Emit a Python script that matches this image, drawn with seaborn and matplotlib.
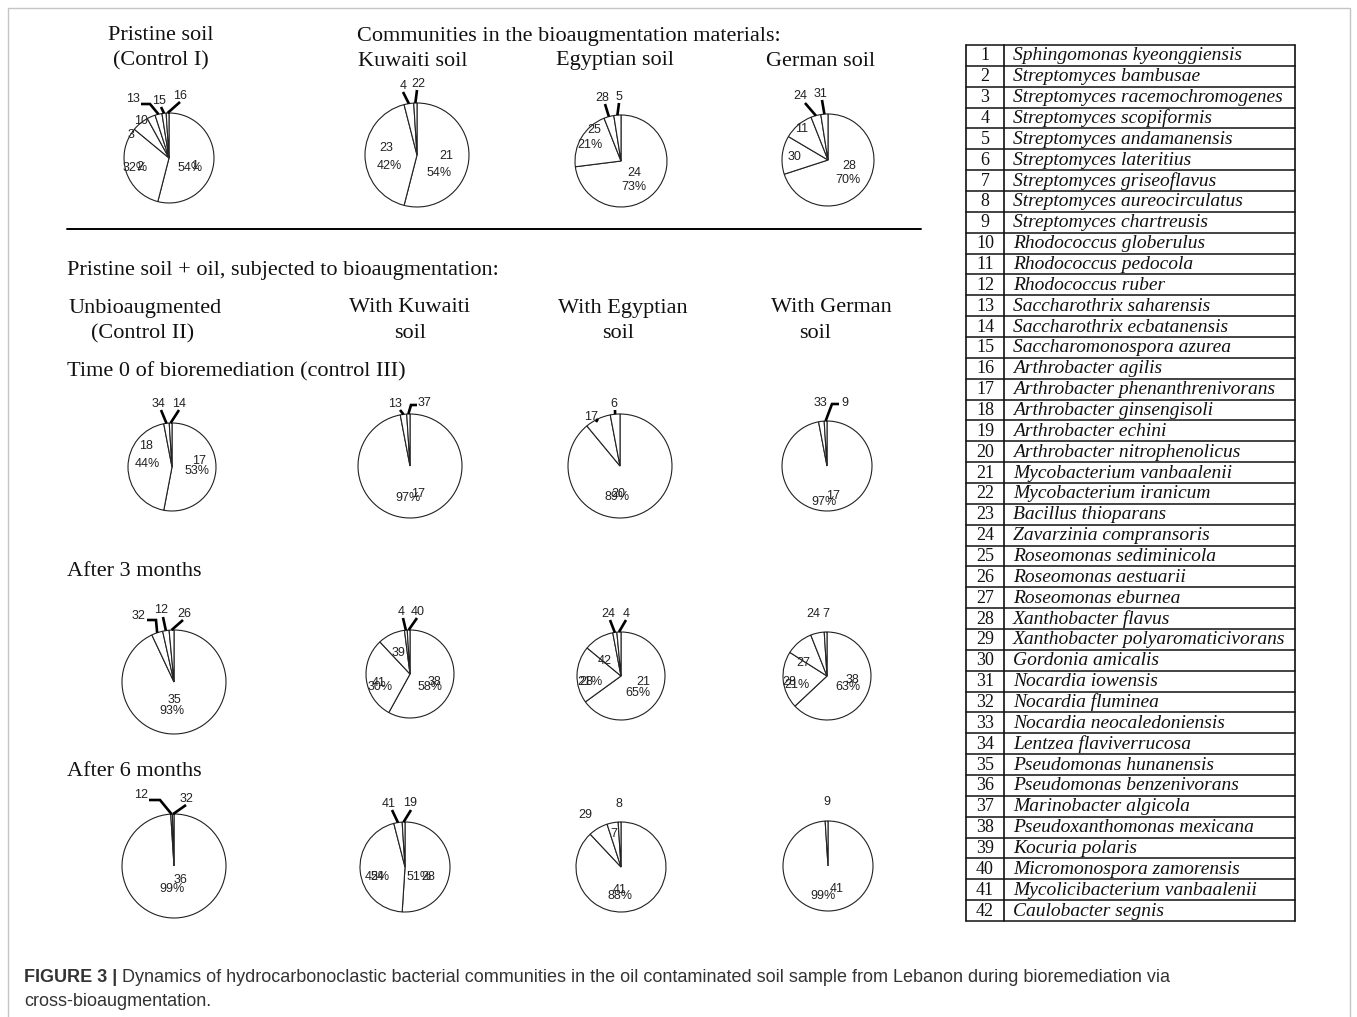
import math
import matplotlib
matplotlib.use("Agg")
import matplotlib.pyplot as plt
import seaborn as sns
from matplotlib.patches import Rectangle

sns.set_theme(style="white")
plt.rcParams['font.family'] = ['Liberation Sans', 'DejaVu Sans']

W, H = 1357, 1017

# ---------------- data ----------------
pristine_species = [1, 2, 3, 10, 13, 15, 16]
pristine_pct = [54, 32, 6, 3, 2.5, 1.5, 1]
kuwaiti_species = [21, 23, 4, 22]
kuwaiti_pct = [54, 42, 3, 1]
egyptian_species = [24, 25, 28, 5]
egyptian_pct = [73, 21, 3.5, 2.5]
german_species = [28, 30, 11, 24, 31]
german_pct = [70, 13.5, 10.5, 3.5, 2.5]

t0_control_species = [17, 18, 34, 14]
t0_control_pct = [53, 44, 2, 1]
t0_kuwaiti_species = [17, 13, 37]
t0_kuwaiti_pct = [97, 2, 1]
t0_egyptian_species = [20, 17, 6]
t0_egyptian_pct = [89, 8, 3]
t0_german_species = [17, 33, 9]
t0_german_pct = [97, 2, 1]

m3_control_species = [35, 32, 12, 26]
m3_control_pct = [93, 3.5, 2, 1.5]
m3_kuwaiti_species = [38, 41, 39, 4, 40]
m3_kuwaiti_pct = [58, 30, 10, 1, 1]
m3_egyptian_species = [21, 28, 42, 24, 4]
m3_egyptian_pct = [65, 21, 11, 1.5, 1.5]
m3_german_species = [38, 28, 27, 24, 7]
m3_german_pct = [63, 21, 10, 5, 1]

m6_control_species = [36, 12, 32]
m6_control_pct = [99, 0.5, 0.5]
m6_kuwaiti_species = [28, 24, 41, 19]
m6_kuwaiti_pct = [51, 45, 3, 1]
m6_egyptian_species = [41, 29, 7, 8]
m6_egyptian_pct = [88, 7, 4, 1]
m6_german_species = [41, 9]
m6_german_pct = [99, 1]

species_names = [
    "Sphingomonas kyeonggiensis", "Streptomyces bambusae", "Streptomyces racemochromogenes",
    "Streptomyces scopiformis", "Streptomyces andamanensis", "Streptomyces lateritius",
    "Streptomyces griseoflavus", "Streptomyces aureocirculatus", "Streptomyces chartreusis",
    "Rhodococcus globerulus", "Rhodococcus pedocola", "Rhodococcus ruber",
    "Saccharothrix saharensis", "Saccharothrix ecbatanensis", "Saccharomonospora azurea",
    "Arthrobacter agilis", "Arthrobacter phenanthrenivorans", "Arthrobacter ginsengisoli",
    "Arthrobacter echini", "Arthrobacter nitrophenolicus", "Mycobacterium vanbaalenii",
    "Mycobacterium iranicum", "Bacillus thioparans", "Zavarzinia compransoris",
    "Roseomonas sediminicola", "Roseomonas aestuarii", "Roseomonas eburnea",
    "Xanthobacter flavus", "Xanthobacter polyaromaticivorans", "Gordonia amicalis",
    "Nocardia iowensis", "Nocardia fluminea", "Nocardia neocaledoniensis",
    "Lentzea flaviverrucosa", "Pseudomonas hunanensis", "Pseudomonas benzenivorans",
    "Marinobacter algicola", "Pseudoxanthomonas mexicana", "Kocuria polaris",
    "Micromonospora zamorensis", "Mycolicibacterium vanbaalenii", "Caulobacter segnis",
]

# ---------------- layout (pixel positions, y from top) ----------------
layouts = [
    dict(sp=pristine_species, v=pristine_pct, c=(169, 158), r=45,
         num={1: (195, 166), 2: (140, 167), 3: (131, 135), 10: (141, 121), 13: (133, 99), 15: (159, 101), 16: (180, 96)},
         per={1: (190, 168), 2: (135, 168)},
         lead={13: [(141, 104), (150, 104)], 15: [(161, 107)], 16: [(180, 102)]}),
    dict(sp=kuwaiti_species, v=kuwaiti_pct, c=(417, 155), r=52,
         num={21: (446, 156), 23: (386, 148), 4: (403, 86), 22: (418, 84)},
         per={21: (439, 173), 23: (389, 166)},
         lead={4: [(403, 92)], 22: [(417, 90)]}),
    dict(sp=egyptian_species, v=egyptian_pct, c=(621, 161), r=46,
         num={24: (634, 173), 25: (594, 130), 28: (602, 98), 5: (619, 97)},
         per={24: (634, 187), 25: (590, 145)},
         lead={28: [(605, 104)], 5: [(619, 103)]}),
    dict(sp=german_species, v=german_pct, c=(828, 160), r=46,
         num={28: (849, 166), 30: (794, 157), 11: (802, 129), 24: (800, 96), 31: (821, 94)},
         per={28: (848, 180)},
         lead={24: [(805, 103)], 31: [(822, 100)]}),
    dict(sp=t0_control_species, v=t0_control_pct, c=(172, 467), r=44,
         num={17: (199, 461), 18: (146, 446), 34: (158, 404), 14: (179, 404)},
         per={17: (197, 471), 18: (147, 464)},
         lead={34: [(161, 410)], 14: [(179, 410)]}),
    dict(sp=t0_kuwaiti_species, v=t0_kuwaiti_pct, c=(410, 466), r=52,
         num={17: (418, 494), 13: (395, 404), 37: (425, 403)},
         per={17: (408, 498)},
         lead={13: [(400, 410)], 37: [(417, 405), (411, 405)]}),
    dict(sp=t0_egyptian_species, v=t0_egyptian_pct, c=(620, 466), r=52,
         num={20: (618, 494), 17: (591, 417), 6: (614, 404)},
         per={20: (617, 497)},
         lead={17: [(596, 422)], 6: [(615, 410)]}),
    dict(sp=t0_german_species, v=t0_german_pct, c=(827, 466), r=45,
         num={17: (833, 496), 33: (820, 403), 9: (845, 403)},
         per={17: (824, 502)},
         lead={9: [(839, 404), (832, 404)]}),
    dict(sp=m3_control_species, v=m3_control_pct, c=(174, 682), r=52,
         num={35: (174, 700), 32: (139, 616), 12: (161, 610), 26: (184, 614)},
         per={35: (172, 711)},
         lead={32: [(147, 620), (156, 620)], 12: [(163, 617)], 26: [(183, 620)]}),
    dict(sp=m3_kuwaiti_species, v=m3_kuwaiti_pct, c=(410, 674), r=44,
         num={38: (434, 682), 41: (379, 683), 39: (398, 653), 4: (401, 612), 40: (418, 612)},
         per={38: (430, 687), 41: (380, 687)},
         lead={4: [(403, 618)], 40: [(417, 618)]}),
    dict(sp=m3_egyptian_species, v=m3_egyptian_pct, c=(621, 676), r=44,
         num={21: (643, 682), 28: (586, 682), 42: (605, 661), 24: (608, 614), 4: (626, 614)},
         per={21: (638, 693), 28: (590, 682)},
         lead={24: [(610, 620)], 4: [(626, 620)]}),
    dict(sp=m3_german_species, v=m3_german_pct, c=(827, 676), r=44,
         num={38: (852, 680), 28: (789, 682), 27: (803, 663), 24: (813, 614), 7: (826, 614)},
         per={38: (848, 687), 28: (797, 685)},
         lead={}),
    dict(sp=m6_control_species, v=m6_control_pct, c=(174, 866), r=52,
         num={36: (181, 880), 12: (141, 795), 32: (186, 799)},
         per={36: (172, 889)},
         lead={12: [(149, 800), (160, 800)], 32: [(186, 805)]}),
    dict(sp=m6_kuwaiti_species, v=m6_kuwaiti_pct, c=(405, 867), r=45,
         num={24: (377, 877), 28: (428, 877), 41: (389, 804), 19: (410, 803)},
         per={24: (377, 877), 28: (419, 877)},
         lead={41: [(392, 810)], 19: [(411, 810)]}),
    dict(sp=m6_egyptian_species, v=m6_egyptian_pct, c=(621, 867), r=45,
         num={41: (620, 890), 29: (585, 815), 7: (614, 834), 8: (619, 804)},
         per={41: (620, 896)},
         lead={}),
    dict(sp=m6_german_species, v=m6_german_pct, c=(828, 866), r=45,
         num={41: (837, 889), 9: (827, 802)},
         per={41: (823, 896)},
         lead={}),
]


def P(x, y):
    return x, H - y


fig = plt.figure(figsize=(W / 100, H / 100), dpi=100)
ax = fig.add_axes([0, 0, 1, 1])

LBL = dict(fontsize=9, family=['Liberation Sans', 'DejaVu Sans'], color='#222222',
           ha='center', va='center', zorder=5)

for L in layouts:
    cx, cy = P(*L['c'])
    r = L['r']
    ax.pie(L['v'], center=(cx, cy), radius=r, startangle=90, counterclock=False,
           wedgeprops=dict(facecolor='white', edgecolor='#222222', linewidth=0.8),
           frame=True)
    total = float(sum(L['v']))
    cum = 0.0
    for sp, val in zip(L['sp'], L['v']):
        mid = math.radians(90 - 360 * (cum + val / 2) / total)
        cum += val
        ex, ey = cx + r * math.cos(mid), cy + r * math.sin(mid)
        if sp in L['num']:
            ax.text(*P(*L['num'][sp]), str(sp), **LBL)
        if sp in L['per']:
            ax.text(*P(*L['per'][sp]), f"{round(val)}%", **LBL)
        if sp in L['lead']:
            pts = [P(*p) for p in L['lead'][sp]] + [(ex, ey)]
            ax.plot([p[0] for p in pts], [p[1] for p in pts], color='black',
                    lw=1.9, solid_capstyle='butt', solid_joinstyle='miter', zorder=6)

ax.set_xlim(0, W)
ax.set_ylim(0, H)
ax.set_aspect('auto')
ax.axis('off')

# ---------------- headings ----------------
HD = dict(fontsize=16, family=['Liberation Serif', 'DejaVu Serif'], color='#111111', va='center')
ax.text(*P(161, 36), "Pristine soil", ha='center', **HD)
ax.text(*P(161, 61), "(Control I)", ha='center', **HD)
ax.text(*P(357, 36), "Communities in the bioaugmentation materials:", ha='left', **HD)
ax.text(*P(413, 61), "Kuwaiti soil", ha='center', **HD)
ax.text(*P(615, 61), "Egyptian soil", ha='center', **HD)
ax.text(*P(821, 61), "German soil", ha='center', **HD)
ax.plot([67, 921], [H - 229, H - 229], color='black', lw=1.4)
ax.text(*P(67, 270), "Pristine soil + oil, subjected to bioaugmentation:", ha='left', **HD)
ax.text(*P(145, 308), "Unbioaugmented", ha='center', **HD)
ax.text(*P(143, 334), "(Control II)", ha='center', **HD)
ax.text(*P(410, 308), "With Kuwaiti", ha='center', **HD)
ax.text(*P(410, 334), "soil", ha='center', **HD)
ax.text(*P(623, 308), "With Egyptian", ha='center', **HD)
ax.text(*P(618, 334), "soil", ha='center', **HD)
ax.text(*P(831, 308), "With German", ha='center', **HD)
ax.text(*P(815, 334), "soil", ha='center', **HD)
ax.text(*P(67, 372), "Time 0 of bioremediation (control III)", ha='left', **HD)
ax.text(*P(67, 572), "After 3 months", ha='left', **HD)
ax.text(*P(67, 772), "After 6 months", ha='left', **HD)

# ---------------- species table ----------------
tx0, tx1, tx2 = 966, 1004, 1295
ty0, ty1 = 45, 921
n = len(species_names)
rh = (ty1 - ty0) / n
for i in range(n + 1):
    y = ty0 + i * rh
    ax.plot([tx0, tx2], [H - y, H - y], color='#111111', lw=1.1)
for x in (tx0, tx1, tx2):
    ax.plot([x, x], [H - ty0, H - ty1], color='#111111', lw=1.2)
for i, name in enumerate(species_names):
    yb = ty0 + i * rh + 15.5
    ax.text(*P(985, yb), str(i + 1), ha='center', va='baseline', fontsize=13,
            family=['Liberation Serif', 'DejaVu Serif'], color='#111111')
    ax.text(*P(1013, yb), name, ha='left', va='baseline', fontsize=14, style='italic',
            family=['Liberation Serif', 'DejaVu Serif'], color='#111111')

# ---------------- frame and caption ----------------
ax.add_patch(Rectangle((8, H - 1040), 1342, 1032, fill=False, edgecolor='#c4c4c4', lw=1.0))

CAP = dict(fontsize=13, family=['Liberation Sans', 'DejaVu Sans'], color='#333333', va='center')
t1 = ax.text(*P(24, 977), "FIGURE 3 |", ha='left', fontweight='bold', **CAP)
fig.canvas.draw()
bb = t1.get_window_extent(renderer=fig.canvas.get_renderer())
x_after = ax.transData.inverted().transform((bb.x1, bb.y0))[0]
ax.text(x_after + 5, H - 977,
        "Dynamics of hydrocarbonoclastic bacterial communities in the oil contaminated soil sample from Lebanon during bioremediation via",
        ha='left', **CAP)
ax.text(*P(24, 1001), "cross-bioaugmentation.", ha='left', **CAP)

fig.savefig("out.png", dpi=100, facecolor='white')
